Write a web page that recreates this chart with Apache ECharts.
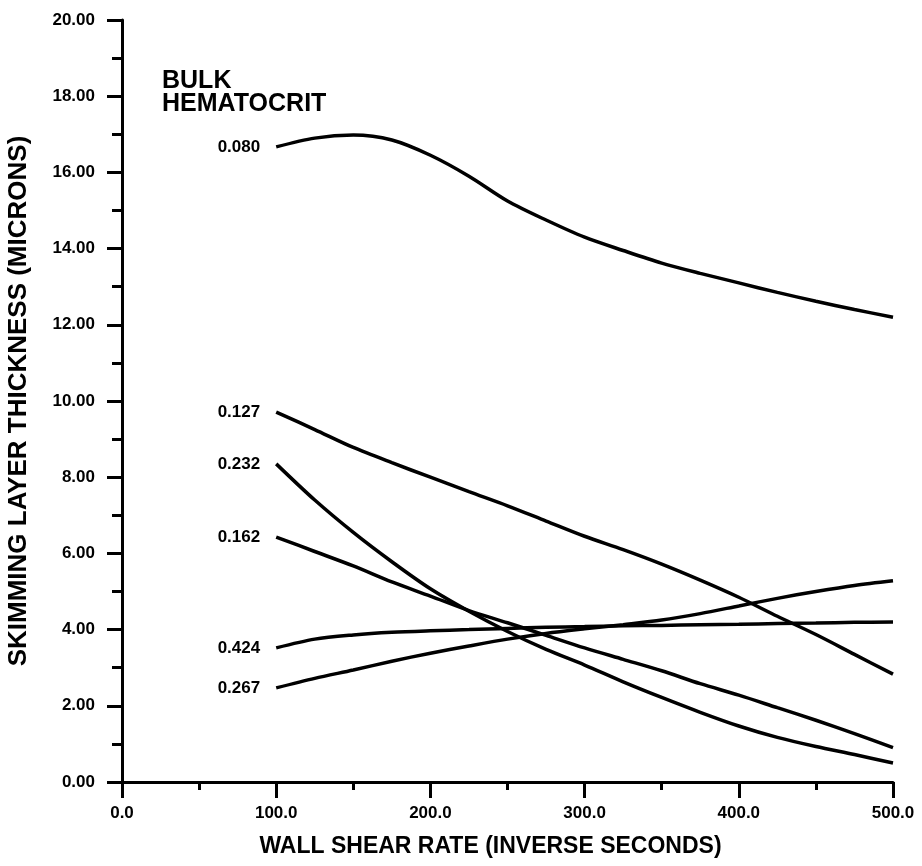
<!DOCTYPE html>
<html>
<head>
<meta charset="utf-8">
<script src="https://cdn.jsdelivr.net/npm/echarts@6/dist/echarts.min.js"></script>
<style>
    html, body { margin: 0; padding: 0; background: #fff; }
    #chart { width: 922px; height: 866px; }
</style>
</head>
<body>
<div id="chart"></div>
<script>
var fontFamily = "'Liberation Sans', Arial, sans-serif";

// wall shear rate (1/s)
var shearRate = [100, 125, 150, 175, 200, 225, 250, 275, 300, 325, 350, 375, 400, 425, 450, 475, 500];

// skimming layer thickness (microns), one list per bulk hematocrit
var hct080 = [16.67, 16.9, 16.98, 16.85, 16.45, 15.9, 15.25, 14.75, 14.3, 13.95, 13.62, 13.35, 13.1, 12.85, 12.62, 12.4, 12.2];
var hct127 = [9.71, 9.25, 8.78, 8.38, 8.0, 7.62, 7.25, 6.85, 6.45, 6.1, 5.72, 5.3, 4.85, 4.35, 3.87, 3.35, 2.83];
var hct232 = [8.35, 7.4, 6.55, 5.78, 5.07, 4.48, 3.95, 3.48, 3.07, 2.63, 2.22, 1.83, 1.47, 1.17, 0.93, 0.72, 0.5];
var hct162 = [6.43, 6.05, 5.67, 5.25, 4.88, 4.5, 4.18, 3.85, 3.52, 3.22, 2.92, 2.58, 2.28, 1.95, 1.62, 1.27, 0.9];
var hct424 = [3.52, 3.75, 3.86, 3.93, 3.97, 4.0, 4.03, 4.06, 4.08, 4.1, 4.11, 4.13, 4.14, 4.16, 4.17, 4.19, 4.2];
var hct267 = [2.47, 2.72, 2.94, 3.17, 3.38, 3.57, 3.75, 3.9, 4.02, 4.13, 4.25, 4.42, 4.62, 4.82, 5.0, 5.16, 5.28];

var seriesNames = ["0.080", "0.127", "0.232", "0.162", "0.424", "0.267"];
var seriesValues = [hct080, hct127, hct232, hct162, hct424, hct267];

function makeSeries(name, values) {
    return {
        name: name,
        type: "line",
        smooth: 0.3,
        symbol: "circle",
        symbolSize: 0,
        showSymbol: true,
        lineStyle: { color: "#000", width: 3.5 },
        itemStyle: { color: "#000" },
        label: {
            show: false,
            position: "left",
            distance: 16,
            formatter: "{a}",
            color: "#000",
            fontFamily: fontFamily,
            fontWeight: "bold",
            fontSize: 17,
        },
        // only the first point carries the hematocrit label
        data: values.map(function (v, i) {
            return i === 0
                ? { value: [shearRate[i], v], label: { show: true } }
                : [shearRate[i], v];
        }),
    };
}

var option = {
    animation: false,
    backgroundColor: "#fff",
    grid: {
        left: 122,
        right: 29,
        top: 20,
        bottom: 84,
        outerBoundsMode: "none",
    },
    xAxis: {
        type: "value",
        min: 0,
        max: 500,
        interval: 100,
        name: "WALL SHEAR RATE (INVERSE SECONDS)",
        nameLocation: "middle",
        nameGap: 53,
        nameTextStyle: {
            color: "#000",
            fontFamily: fontFamily,
            fontWeight: "bold",
            fontSize: 23,
            padding: [0, 34, 0, 0],
        },
        axisLine: { lineStyle: { color: "#000", width: 3 } },
        axisTick: { show: true, length: 16, inside: false, lineStyle: { color: "#000", width: 3 } },
        minorTick: { show: true, splitNumber: 2, length: 8, lineStyle: { color: "#000", width: 3 } },
        splitLine: { show: false },
        axisLabel: {
            color: "#000",
            margin: 23,
            fontFamily: fontFamily,
            fontWeight: "bold",
            fontSize: 17,
            formatter: function (v) { return v.toFixed(1); },
        },
    },
    yAxis: {
        type: "value",
        min: 0,
        max: 20,
        interval: 2,
        name: "SKIMMING LAYER THICKNESS (MICRONS)",
        nameLocation: "middle",
        nameGap: 90,
        nameTextStyle: {
            color: "#000",
            fontFamily: fontFamily,
            fontWeight: "bold",
            fontSize: 26,
        },
        axisLine: { show: true, lineStyle: { color: "#000", width: 3 } },
        axisTick: { show: true, length: 15, lineStyle: { color: "#000", width: 3 } },
        minorTick: { show: true, splitNumber: 2, length: 10, lineStyle: { color: "#000", width: 3 } },
        splitLine: { show: false },
        axisLabel: {
            color: "#000",
            margin: 27,
            fontFamily: fontFamily,
            fontWeight: "bold",
            fontSize: 17,
            formatter: function (v) { return v.toFixed(2); },
        },
    },
    graphic: [
        {
            type: "text",
            left: 162,
            top: 69,
            style: {
                text: "BULK\nHEMATOCRIT",
                fill: "#000",
                font: "bold 25px " + fontFamily,
                lineHeight: 23,
            },
        },
    ],
    series: seriesNames.map(function (n, i) {
        return makeSeries(n, seriesValues[i]);
    }),
};

var chart = echarts.init(document.getElementById("chart"));
chart.setOption(option);
</script>
</body>
</html>
